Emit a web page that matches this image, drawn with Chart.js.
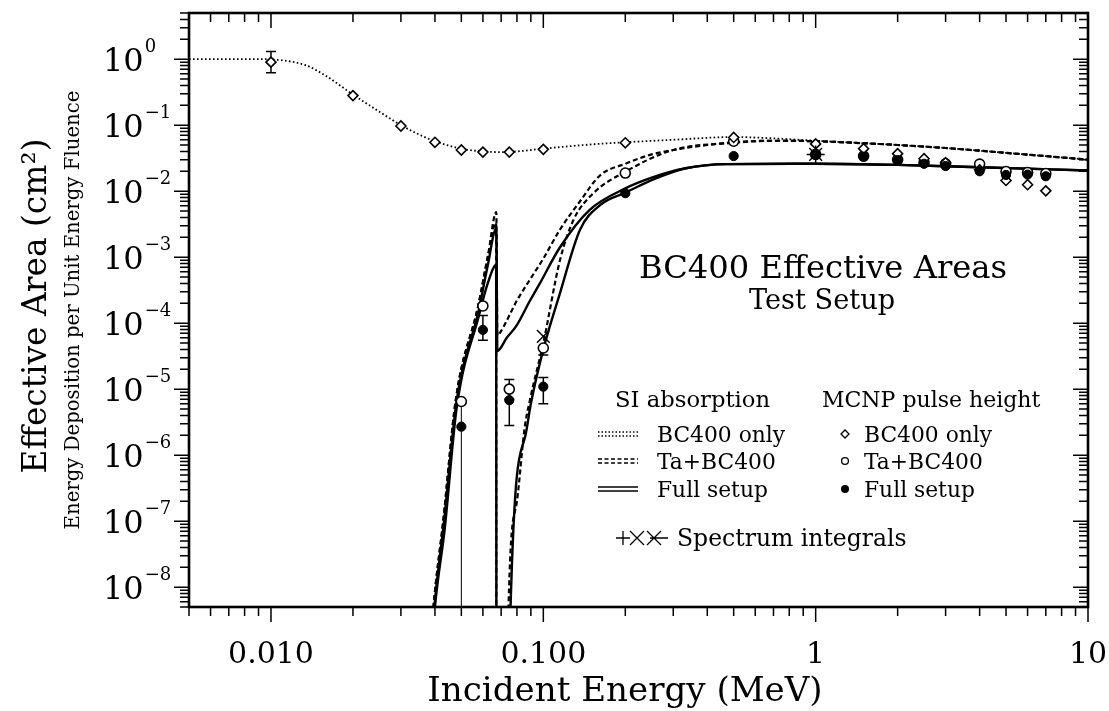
<!DOCTYPE html>
<html>
<head>
<meta charset="utf-8">
<title>BC400 Effective Areas</title>
<script src="https://cdn.jsdelivr.net/npm/chart.js@4.4.1/dist/chart.umd.min.js"></script>
<style>
  html, body { margin: 0; padding: 0; background: #fff; }
  #wrap { width: 1109px; height: 711px; }
</style>
</head>
<body>
<div id="wrap"><canvas id="effChart" width="1109" height="711"></canvas></div>
<script>
// MCNP pulse height results (MeV, cm^2)
const mcnpBcE = [0.01, 0.02, 0.03, 0.04, 0.05, 0.06, 0.075, 0.1, 0.2, 0.5, 1, 1.5, 2, 2.5, 3, 4, 5, 6, 7];
const mcnpBc = [0.9, 0.28, 0.097, 0.055, 0.042, 0.039, 0.039, 0.043, 0.054, 0.065, 0.052, 0.044, 0.037, 0.031, 0.027, 0.021, 0.0145, 0.0125, 0.0101];
const mcnpE = [0.05, 0.06, 0.075, 0.1, 0.2, 0.5, 1, 1.5, 2, 2.5, 3, 4, 5, 6, 7];
const mcnpTa = [6.5e-6, 1.82e-4, 1.0e-5, 4.2e-5, 0.0188, 0.057, 0.036, 0.034, 0.030, 0.027, 0.026, 0.0257, 0.0198, 0.0192, 0.0185];
const mcnpFull = [2.7e-6, 7.9e-5, 6.8e-6, 1.09e-5, 0.0093, 0.034, 0.0355, 0.0333, 0.0295, 0.026, 0.024, 0.020, 0.0176, 0.0178, 0.0168];

// error bars: energy, low, high
const errE = [0.01, 0.05, 0.06, 0.075, 0.075, 0.1, 0.1];
const errLo = [0.62, 1e-12, 5.5e-5, 7e-6, 2.8e-6, 6.0e-6, 3.3e-5];
const errHi = [1.3, 6.5e-6, 1.3e-4, 1.4e-5, 1.0e-5, 1.5e-5, 4.2e-5];

// spectrum integrals
const specTaE = [0.1];
const specTa = [6.3e-5];
const specFullE = [1];
const specFull = [0.036];

// SI absorption curves
const siBcE = [0.005, 0.009, 0.0112, 0.0135, 0.016, 0.02, 0.025, 0.03, 0.035, 0.04, 0.05, 0.06, 0.07, 0.08, 0.1, 0.15, 0.2, 0.3, 0.5, 0.7, 1, 2, 3, 5, 10];
const siBc = [1.0, 1.0, 0.95, 0.8, 0.55, 0.29, 0.16, 0.10, 0.072, 0.057, 0.044, 0.040, 0.039, 0.040, 0.044, 0.051, 0.055, 0.060, 0.066, 0.063, 0.058, 0.050, 0.045, 0.038, 0.030];

const siTaE1 = [0.0385, 0.0395, 0.0429, 0.0477, 0.0578, 0.0625, 0.0672, 0.0678, 0.0694, 0.08, 0.09, 0.1, 0.115, 0.136, 0.162, 0.2, 0.25, 0.3, 0.4, 0.5, 0.7, 1, 2, 3, 5, 10];
const siTa1 = [1.2e-9, 5e-9, 1.0e-7, 6.8e-6, 1.9e-4, 1.0e-3, 4.8e-3, 6.5e-5, 7.2e-5, 2.2e-4, 4.8e-4, 9.5e-4, 2.6e-3, 6.9e-3, 0.0175, 0.026, 0.036, 0.042, 0.050, 0.055, 0.058, 0.057, 0.050, 0.045, 0.038, 0.030];

const siTaE2 = [0.0385, 0.0395, 0.0429, 0.0477, 0.0578, 0.0625, 0.0671, 0.0673, 0.0738, 0.0745, 0.08, 0.0853, 0.0894, 0.1, 0.1152, 0.129, 0.1527, 0.2, 0.3, 0.5, 0.7, 1, 2, 3, 5, 10];
const siTa2 = [1.2e-9, 5e-9, 1.0e-7, 6.8e-6, 1.9e-4, 1.0e-3, 3.3e-3, 1e-10, 1e-10, 5e-9, 2.0e-7, 2.5e-6, 7.0e-6, 5e-5, 9.1e-4, 3.65e-3, 9.3e-3, 0.0197, 0.042, 0.054, 0.058, 0.057, 0.050, 0.045, 0.038, 0.030];

const siFullE1 = [0.0388, 0.0398, 0.0432, 0.048, 0.058, 0.0625, 0.0672, 0.0678, 0.0734, 0.0795, 0.0894, 0.0971, 0.115, 0.148, 0.2, 0.25, 0.33, 0.47, 1, 2, 4, 10];
const siFull1 = [1.2e-9, 5e-9, 1.0e-7, 6.5e-6, 1.6e-4, 7.5e-4, 2.7e-3, 3.8e-5, 6e-5, 9e-5, 2.2e-4, 4.0e-4, 1.4e-3, 5.2e-3, 0.011, 0.016, 0.022, 0.0257, 0.026, 0.025, 0.023, 0.0205];

const siFullE2 = [0.039, 0.040, 0.0435, 0.048, 0.058, 0.0625, 0.0671, 0.0673, 0.0752, 0.0758, 0.086, 0.09, 0.1, 0.115, 0.1364, 0.162, 0.2, 0.259, 0.333, 0.47, 1, 2, 4, 10];
const siFull2 = [1.2e-9, 5e-9, 8e-8, 5e-6, 1.3e-4, 4e-4, 7.6e-4, 1e-10, 1e-10, 5e-9, 2.0e-6, 6e-6, 4e-5, 2.8e-4, 2.6e-3, 6.2e-3, 9.5e-3, 0.0156, 0.0222, 0.0257, 0.026, 0.025, 0.023, 0.0205];

// axis ticks
const xMajor = [0.01, 0.1, 1, 10];
const xTickLabels = ['0.010', '0.100', '1', '10'];
const yExponents = [0, -1, -2, -3, -4, -5, -6, -7, -8];

const SERIF = '"DejaVu Serif", serif';

function pts(xs, ys) {
    return xs.map((x, i) => ({ x: x, y: ys[i] }));
}

function curve(xs, ys, dash, width) {
    return {
        type: 'line', data: pts(xs, ys), borderColor: '#000', borderWidth: width,
        borderDash: dash, pointRadius: 0, fill: false, cubicInterpolationMode: 'monotone', order: 5
    };
}

function marks(xs, ys, style, radius, fillCol, bw) {
    return {
        type: 'scatter', data: pts(xs, ys), pointStyle: style, pointRadius: radius,
        backgroundColor: fillCol, borderColor: '#000', pointBorderWidth: bw, borderWidth: bw, showLine: false, order: 1
    };
}

// set the font so that text spans the given width
function fitFont(ctx, text, width, guess) {
    ctx.font = guess + 'px ' + SERIF;
    let size = guess * width / ctx.measureText(text).width;
    ctx.font = size.toFixed(1) + 'px ' + SERIF;
    return size;
}

const errorBars = {
    id: 'errorBars',
    beforeDatasetsDraw(chart) {
        const ctx = chart.ctx, xs = chart.scales.x, ys = chart.scales.y, area = chart.chartArea;
        ctx.save();
        ctx.strokeStyle = '#000';
        for (let i = 0; i < errE.length; i++) {
            const x = xs.getPixelForValue(errE[i]);
            const top = ys.getPixelForValue(errHi[i]);
            let bot = ys.getPixelForValue(errLo[i]);
            const toAxis = bot > area.bottom;
            if (toAxis) bot = area.bottom;
            ctx.lineWidth = toAxis ? 1 : 1.5;
            ctx.beginPath();
            ctx.moveTo(x, top); ctx.lineTo(x, bot);
            if (!toAxis) {
                ctx.moveTo(x - 5, top); ctx.lineTo(x + 5, top);
                ctx.moveTo(x - 5, bot); ctx.lineTo(x + 5, bot);
            }
            ctx.stroke();
        }
        ctx.restore();
    }
};

const frame = {
    id: 'frame',
    afterDraw(chart) {
        const ctx = chart.ctx, xs = chart.scales.x, ys = chart.scales.y, a = chart.chartArea;
        ctx.save();
        ctx.strokeStyle = '#000';
        ctx.fillStyle = '#000';

        // ticks
        ctx.lineWidth = 1.5;
        ctx.beginPath();
        for (let d = -3; d <= 1; d++) {
            for (let k = 1; k <= 9; k++) {
                const v = k * Math.pow(10, d);
                if (v < xs.min * 0.999 || v > xs.max * 1.001) continue;
                const x = xs.getPixelForValue(v);
                const len = k === 1 ? 15 : 9;
                ctx.moveTo(x, a.bottom); ctx.lineTo(x, a.bottom + len);
                ctx.moveTo(x, a.top); ctx.lineTo(x, a.top + len);
            }
        }
        for (let d = -9; d <= 0; d++) {
            for (let k = 1; k <= 9; k++) {
                const v = k * Math.pow(10, d);
                if (v < ys.min * 0.999 || v > ys.max * 1.001) continue;
                const y = ys.getPixelForValue(v);
                const len = k === 1 ? 15 : 9;
                ctx.moveTo(a.left - len, y); ctx.lineTo(a.left, y);
                ctx.moveTo(a.right - len, y); ctx.lineTo(a.right, y);
            }
        }
        ctx.stroke();

        // box
        ctx.lineWidth = 2.6;
        ctx.strokeRect(a.left, a.top, a.right - a.left, a.bottom - a.top);

        // y tick labels 10^n
        ctx.textBaseline = 'alphabetic';
        ctx.textAlign = 'left';
        yExponents.forEach(e => {
            const y = ys.getPixelForValue(Math.pow(10, e));
            ctx.font = '32px ' + SERIF;
            ctx.fillText('10', 103, y + 12);
            const w = ctx.measureText('10').width;
            ctx.font = '18px ' + SERIF;
            ctx.fillText(e === 0 ? '0' : '\u2212' + (-e), 103 + w + 1, y - 7);
        });

        // x tick labels
        ctx.textAlign = 'center';
        ctx.font = '30px ' + SERIF;
        xMajor.forEach((v, i) => {
            ctx.fillText(xTickLabels[i], xs.getPixelForValue(v), 663);
        });

        // axis titles
        fitFont(ctx, 'Incident Energy (MeV)', 395, 32);
        ctx.fillText('Incident Energy (MeV)', 625, 701);

        ctx.save();
        ctx.translate(46, 306);
        ctx.rotate(-Math.PI / 2);
        fitFont(ctx, 'Effective Area (cm\u00b2)', 335, 34);
        ctx.fillText('Effective Area (cm\u00b2)', 0, 0);
        ctx.restore();

        ctx.save();
        ctx.translate(79, 310);
        ctx.rotate(-Math.PI / 2);
        fitFont(ctx, 'Energy Deposition per Unit Energy Fluence', 440, 18);
        ctx.fillText('Energy Deposition per Unit Energy Fluence', 0, 0);
        ctx.restore();

        // inset titles
        fitFont(ctx, 'BC400 Effective Areas', 368, 28);
        ctx.fillText('BC400 Effective Areas', 823, 278);
        fitFont(ctx, 'Test Setup', 146, 22);
        ctx.fillText('Test Setup', 822, 309);

        // legend
        ctx.textAlign = 'left';
        fitFont(ctx, 'SI absorption', 155, 20);
        ctx.fillText('SI absorption', 615, 407);
        fitFont(ctx, 'MCNP pulse height', 218, 20);
        ctx.fillText('MCNP pulse height', 822, 407);

        const rowY = [434, 461, 489];
        const rowText = ['BC400 only', 'Ta+BC400', 'Full setup'];
        const rowDash = [[1.5, 2], [4, 2.5], []];
        fitFont(ctx, 'BC400 only', 128, 22);
        rowText.forEach((t, i) => {
            ctx.fillText(t, 657, rowY[i] + 8);
            ctx.fillText(t, 864, rowY[i] + 8);
            ctx.save();
            ctx.setLineDash(rowDash[i]);
            ctx.lineWidth = 1.4;
            ctx.beginPath();
            ctx.moveTo(598, rowY[i] - 2); ctx.lineTo(638, rowY[i] - 2);
            ctx.moveTo(598, rowY[i] + 2); ctx.lineTo(638, rowY[i] + 2);
            ctx.stroke();
            ctx.restore();
        });
        ctx.lineWidth = 1.3;
        ctx.beginPath();
        ctx.moveTo(841, rowY[0]); ctx.lineTo(845, rowY[0] - 4);
        ctx.lineTo(849, rowY[0]); ctx.lineTo(845, rowY[0] + 4);
        ctx.closePath();
        ctx.stroke();
        ctx.beginPath();
        ctx.arc(845, rowY[1], 3.4, 0, Math.PI * 2);
        ctx.stroke();
        ctx.beginPath();
        ctx.arc(845, rowY[2], 4, 0, Math.PI * 2);
        ctx.fill();

        // spectrum integral symbols
        const sy = 538;
        ctx.lineWidth = 1.3;
        ctx.beginPath();
        ctx.moveTo(616, sy); ctx.lineTo(630, sy);
        ctx.moveTo(623, sy - 7); ctx.lineTo(623, sy + 7);
        ctx.moveTo(630, sy - 7); ctx.lineTo(644, sy + 7);
        ctx.moveTo(630, sy + 7); ctx.lineTo(644, sy - 7);
        ctx.moveTo(647, sy - 7); ctx.lineTo(661, sy + 7);
        ctx.moveTo(647, sy + 7); ctx.lineTo(661, sy - 7);
        ctx.moveTo(650, sy); ctx.lineTo(668, sy);
        ctx.stroke();
        fitFont(ctx, 'Spectrum integrals', 230, 22);
        ctx.fillText('Spectrum integrals', 677, sy + 8);

        ctx.restore();
    }
};

new Chart(document.getElementById('effChart'), {
    data: {
        datasets: [
            marks(specTaE, specTa, 'crossRot', 9, '#000', 1.5),
            marks(specFullE, specFull, 'star', 9, '#000', 1.5),
            marks(mcnpE, mcnpFull, 'circle', 4.6, '#000', 1),
            marks(mcnpBcE, mcnpBc, 'rectRot', 5, '#fff', 1.6),
            marks(mcnpE, mcnpTa, 'circle', 5, '#fff', 1.6),
            curve(siBcE, siBc, [1.6, 2.4], 1.8),
            curve(siTaE1, siTa1, [5, 3], 2.2),
            curve(siTaE2, siTa2, [5, 3], 2.2),
            curve(siFullE1, siFull1, [], 2.4),
            curve(siFullE2, siFull2, [], 2.4)
        ]
    },
    options: {
        responsive: false,
        animation: false,
        events: [],
        layout: { padding: { left: 189, top: 13, right: 21, bottom: 104 } },
        plugins: { legend: { display: false }, tooltip: { enabled: false } },
        scales: {
            x: { type: 'logarithmic', min: 0.005, max: 10, display: false },
            y: { type: 'logarithmic', min: 5e-9, max: 5, display: false }
        }
    },
    plugins: [errorBars, frame]
});
</script>
</body>
</html>
